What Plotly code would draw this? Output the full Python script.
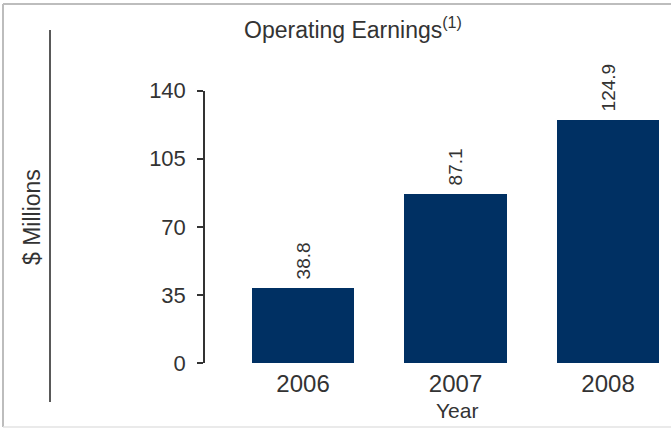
import plotly.graph_objects as go

# Operating earnings by year, $ millions
years = ["2006", "2007", "2008"]
earnings = [38.8, 87.1, 124.9]
earnings_labels = ["38.8", "87.1", "124.9"]
y_ticks = [0, 35, 70, 105, 140]

W, H = 671, 429
FONT = "Liberation Sans, Arial, sans-serif"
TXT = "#333333"
NAVY = "#003063"

# plot area in pixels
left, right = 205, 671
top, bottom = 90.7, 363

# a leading no-break space lifts each rotated value label off its bar
bar_text = ["\u00a0" + s for s in earnings_labels]

fig = go.Figure(
    go.Bar(
        x=years,
        y=earnings,
        width=0.67,
        marker=dict(color=NAVY, line=dict(width=0)),
        text=bar_text,
        textposition="outside",
        textangle=-90,
        constraintext="none",
        cliponaxis=False,
        textfont=dict(family=FONT, size=19, color=TXT),
        hoverinfo="skip",
    )
)

fig.update_layout(
    width=W,
    height=H,
    margin=dict(l=0, r=0, t=0, b=0),
    paper_bgcolor="white",
    plot_bgcolor="white",
    showlegend=False,
    bargap=0,
    title=dict(
        text="Operating Earnings<sup>(1)</sup>",
        x=353 / W,
        xanchor="center",
        y=1 - 30 / H,
        yanchor="middle",
        font=dict(family=FONT, size=23, color=TXT),
    ),
    xaxis=dict(
        domain=[left / W, right / W],
        range=[-0.643, 2.413],
        showline=False,
        showgrid=False,
        zeroline=False,
        ticks="",
        automargin=False,
        tickfont=dict(family=FONT, size=24, color=TXT),
        ticklabelstandoff=4,
    ),
    yaxis=dict(
        domain=[1 - bottom / H, 1 - top / H],
        range=[0, 140],
        tickvals=y_ticks,
        showline=True,
        linecolor="#333333",
        linewidth=1.5,
        showgrid=False,
        zeroline=False,
        ticks="outside",
        ticklen=6,
        tickwidth=1.5,
        tickcolor="#333333",
        automargin=False,
        tickfont=dict(family=FONT, size=22, color=TXT),
        ticklabelstandoff=7,
    ),
    annotations=[
        dict(
            text="Year",
            xref="paper", yref="paper",
            x=457 / W, y=1 - 410 / H,
            xanchor="center", yanchor="middle",
            showarrow=False,
            font=dict(family=FONT, size=21, color=TXT),
        ),
        dict(
            text="$ Millions",
            xref="paper", yref="paper",
            x=32 / W, y=1 - 217 / H,
            xanchor="center", yanchor="middle",
            textangle=-90,
            showarrow=False,
            font=dict(family=FONT, size=23, color=TXT),
        ),
    ],
    shapes=[
        # divider line beside the axis title
        dict(type="line", xref="paper", yref="paper",
             x0=50 / W, x1=50 / W, y0=1 - 30 / H, y1=1 - 402 / H,
             line=dict(color="#222222", width=1.5)),
        # frame
        dict(type="line", xref="paper", yref="paper",
             x0=3 / W, x1=1, y0=1 - 4 / H, y1=1 - 4 / H,
             line=dict(color="#bdbdbd", width=2)),
        dict(type="line", xref="paper", yref="paper",
             x0=3 / W, x1=3 / W, y0=1 - 4 / H, y1=1 - 427 / H,
             line=dict(color="#bdbdbd", width=2)),
        dict(type="line", xref="paper", yref="paper",
             x0=3 / W, x1=1, y0=1 - 427 / H, y1=1 - 427 / H,
             line=dict(color="#e3e3e3", width=1.5)),
    ],
)

fig.write_html("out.html")
